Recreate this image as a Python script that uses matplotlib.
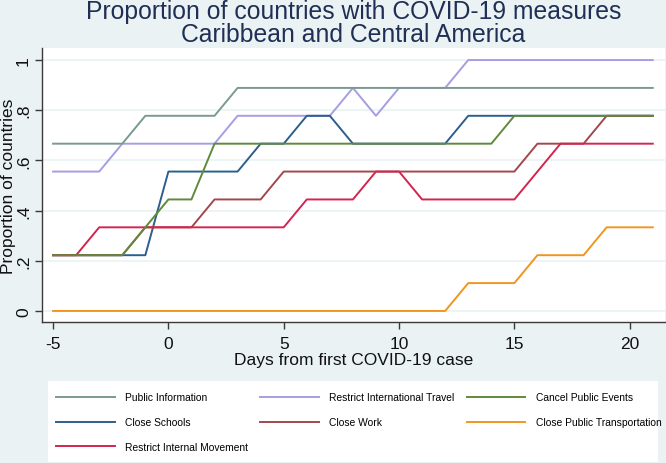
import matplotlib
matplotlib.use('Agg')
import matplotlib.pyplot as plt
from matplotlib.patches import Rectangle

plt.rcParams['font.family'] = ['Liberation Sans', 'DejaVu Sans']
plt.rcParams['axes.unicode_minus'] = False

# days relative to first case, -5 .. 21
days = list(range(-5, 22))
n_countries = 9

# number of countries (out of 9) with each measure in place
public_info = [6, 6, 6, 6, 7, 7, 7, 7, 8, 8, 8, 8, 8, 8, 8, 8, 8, 8, 8, 8, 8, 8, 8, 8, 8, 8, 8]
intl_travel = [5, 5, 5, 6, 6, 6, 6, 6, 7, 7, 7, 7, 7, 8, 7, 8, 8, 8, 9, 9, 9, 9, 9, 9, 9, 9, 9]
public_events = [2, 2, 2, 2, 3, 4, 4, 6, 6, 6, 6, 6, 6, 6, 6, 6, 6, 6, 6, 6, 7, 7, 7, 7, 7, 7, 7]
close_schools = [2, 2, 2, 2, 2, 5, 5, 5, 5, 6, 6, 7, 7, 6, 6, 6, 6, 6, 7, 7, 7, 7, 7, 7, 7, 7, 7]
close_work = [2, 2, 2, 2, 3, 3, 3, 4, 4, 4, 5, 5, 5, 5, 5, 5, 5, 5, 5, 5, 5, 6, 6, 6, 7, 7, 7]
public_transport = [0, 0, 0, 0, 0, 0, 0, 0, 0, 0, 0, 0, 0, 0, 0, 0, 0, 0, 1, 1, 1, 2, 2, 2, 3, 3, 3]
internal_movement = [2, 2, 3, 3, 3, 3, 3, 3, 3, 3, 3, 4, 4, 4, 5, 5, 4, 4, 4, 4, 4, 5, 6, 6, 6, 6, 6]

labels = ['Public Information', 'Restrict International Travel', 'Cancel Public Events',
          'Close Schools', 'Close Work', 'Close Public Transportation',
          'Restrict Internal Movement']
series = [public_info, intl_travel, public_events, close_schools, close_work,
          public_transport, internal_movement]
colors = ['#7b9a8f', '#a59ee3', '#5f8a3a', '#2b5f8f', '#a3474d', '#f0961e', '#d2254f']
zorders = [7, 1, 6, 2, 3, 4, 5]

bg = '#eaf2f3'
fig = plt.figure(figsize=(6.66, 4.64), dpi=100, facecolor=bg)
ax = fig.add_axes([42 / 666, 1 - 323 / 464, 623 / 666, 274 / 464])
ax.set_facecolor('white')

lines = []
for vals, lab, col, z in zip(series, labels, colors, zorders):
    prop = [v / n_countries for v in vals]
    ln, = ax.plot(days, prop, color=col, lw=1.4, label=lab, zorder=z + 2)
    lines.append(ln)

ax.set_xlim(-5.48, 21.53)
ax.set_ylim(-0.044, 1.048)
ax.set_xticks([-5, 0, 5, 10, 15, 20])
ax.set_yticks([0, 0.2, 0.4, 0.6, 0.8, 1])
ax.set_yticklabels(['0', '.2', '.4', '.6', '.8', '1'])
ax.grid(axis='y', color=bg, lw=1.2, zorder=0)
ax.set_axisbelow(True)

for s in ['top', 'right']:
    ax.spines[s].set_visible(False)
for s in ['left', 'bottom']:
    ax.spines[s].set_color('#3a3a3a')
    ax.spines[s].set_linewidth(1.0)
ax.tick_params(axis='both', colors='#3a3a3a', length=5, width=1.0, labelsize=12.5,
               labelcolor='#111111')
ax.tick_params(axis='y', labelrotation=90)
for t in ax.get_yticklabels():
    t.set_va('center')
ax.tick_params(axis='x', pad=5)
ax.tick_params(axis='y', pad=3)

ax.set_xlabel('Days from first COVID-19 case', fontsize=12.5, color='#111111', labelpad=1)
ax.set_ylabel('Proportion of countries', fontsize=12.5, color='#111111')
ax.yaxis.set_label_coords(-26 / 623, 0.5)

# two-line title, centred over the plot region
title_x = (42 + 665) / 2 / 666
fig.text(title_x, 1 - 19 / 464, 'Proportion of countries with COVID-19 measures',
         ha='center', va='baseline', fontsize=17.8, color='#1f2f55')
fig.text(title_x, 1 - 42 / 464, 'Caribbean and Central America',
         ha='center', va='baseline', fontsize=17.8, color='#1f2f55')

# white legend box
fig.patches.append(Rectangle((48 / 666, 1 - 463 / 464), 610 / 666, 81 / 464,
                             transform=fig.transFigure, facecolor='white',
                             edgecolor='none', zorder=0))
order = [0, 3, 6, 1, 4, 2, 5]
fig.legend([lines[i] for i in order], [labels[i] for i in order], ncol=3,
           loc='upper left', bbox_to_anchor=(49 / 666, 1 - 386 / 464),
           frameon=False, fontsize=7.4, handlelength=5.7, handletextpad=1.0,
           columnspacing=1.2, labelspacing=1.45, borderpad=0.2)

plt.savefig('out.png', dpi=100, facecolor=bg)
